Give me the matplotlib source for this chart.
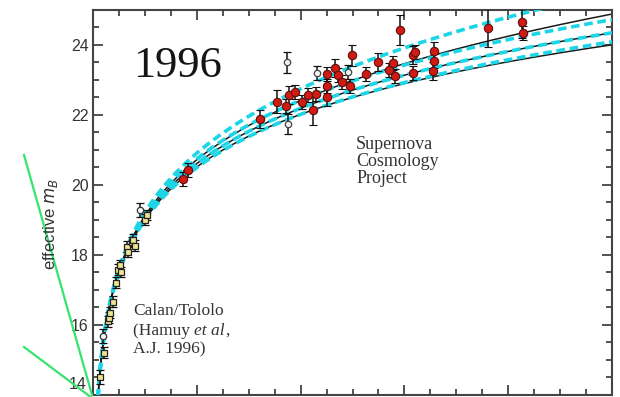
import numpy as np
import matplotlib
matplotlib.use("Agg")
import matplotlib.pyplot as plt
from matplotlib.lines import Line2D
from matplotlib.ticker import MultipleLocator

# ---- Calan/Tololo low-redshift supernovae ----
ct_z = [0.0135, 0.0212, 0.0289, 0.0308, 0.0328, 0.0385, 0.0443, 0.048, 0.052,
        0.054, 0.0655, 0.0674, 0.075, 0.077, 0.081, 0.100, 0.104]
ct_m = [14.49, 15.20, 16.09, 16.20, 16.34, 16.66, 17.20, 17.57, 17.71,
        17.51, 18.23, 18.09, 18.37, 18.43, 18.26, 19.00, 19.14]
ct_err = [0.2, 0.15, 0.15, 0.15, 0.15, 0.15, 0.15, 0.15, 0.15,
          0.15, 0.15, 0.15, 0.15, 0.15, 0.15, 0.15, 0.15]
ct_open_z = [0.0193, 0.0906]
ct_open_m = [15.66, 19.29]
ct_open_err = [0.2, 0.2]

# ---- Supernova Cosmology Project high-redshift supernovae ----
scp_z = [0.173, 0.183, 0.322, 0.355, 0.372, 0.378, 0.389, 0.403, 0.414, 0.424,
         0.430, 0.451, 0.451, 0.451, 0.466, 0.472, 0.480, 0.495, 0.499, 0.526,
         0.549, 0.570, 0.578, 0.582, 0.592, 0.617, 0.620, 0.617, 0.657, 0.657,
         0.655, 0.761, 0.827, 0.829]
scp_m = [20.17, 20.43, 21.89, 22.37, 22.26, 22.57, 22.66, 22.37, 22.57, 22.14,
         22.60, 23.17, 22.83, 22.51, 23.34, 23.14, 22.94, 22.83, 23.71, 23.17,
         23.51, 23.29, 23.49, 23.11, 24.43, 23.71, 23.80, 23.20, 23.83, 23.54,
         23.26, 24.49, 24.66, 24.34]
scp_err = [0.2, 0.2, 0.26, 0.33, 0.2, 0.25, 0.2, 0.2, 0.2, 0.42,
           0.2, 0.2, 0.2, 0.25, 0.25, 0.2, 0.2, 0.2, 0.3, 0.2,
           0.25, 0.2, 0.2, 0.2, 0.42, 0.25, 0.2, 0.2, 0.25, 0.2,
           0.25, 0.55, 0.45, 0.2]
scp_open_z = [0.374, 0.376, 0.432, 0.491]
scp_open_m = [23.51, 21.74, 23.20, 23.23]
scp_open_err = [0.3, 0.28, 0.2, 0.2]

# ---- model cosmologies ----
lambda0_omega_m = [0.0, 1.0, 2.0]            # Omega_Lambda = 0
flat_omega_m = [0.0, 0.5, 1.0, 1.5]          # Omega_M + Omega_Lambda = 1
script_M = -3.38
c_kms = 299792.458

y_ticks = [16, 18, 20, 22, 24]


def lum_distance(z, om, ol):
    """Luminosity distance in units of c/H0."""
    ok = 1.0 - om - ol
    e = np.sqrt(om * (1 + z) ** 3 + ok * (1 + z) ** 2 + ol)
    integrand = 1.0 / e
    chi = np.concatenate([[0.0], np.cumsum(0.5 * (integrand[1:] + integrand[:-1]) * np.diff(z))])
    if ok > 1e-8:
        s = np.sinh(np.sqrt(ok) * chi) / np.sqrt(ok)
    elif ok < -1e-8:
        s = np.sin(np.sqrt(-ok) * chi) / np.sqrt(-ok)
    else:
        s = chi
    return (1 + z) * s


z_grid = np.linspace(0.0, 1.02, 2000)


def model_mag(om, ol):
    dl = lum_distance(z_grid, om, ol)
    with np.errstate(divide="ignore"):
        return script_M + 5 * np.log10(c_kms * dl)


fig = plt.figure(figsize=(6.2, 3.97), dpi=100)
ax = fig.add_axes([93 / 620, 2.5 / 397, 519 / 620, 384.5 / 397])

# Lambda = 0 models: solid black
for om in lambda0_omega_m:
    ax.plot(z_grid[1:], model_mag(om, 0.0)[1:], color="#1a1a1a", lw=1.1, zorder=2)
# flat models: dashed cyan
for om in flat_omega_m:
    ax.plot(z_grid[1:], model_mag(om, 1.0 - om)[1:], color="#1cd6e8", lw=2.6,
            ls=(0, (2.4, 1.3)), zorder=3)

ebar = dict(ecolor="#111111", elinewidth=1.1, capsize=3.0, capthick=1.6, ls="none")

# Calan/Tololo
ax.errorbar(ct_z, ct_m, yerr=ct_err, fmt="s", ms=4.8, mfc="#efe38e", mec="#222222",
            mew=0.9, zorder=5, **ebar)
ax.errorbar(ct_open_z, ct_open_m, yerr=ct_open_err, fmt="o", ms=4.6, mfc="#f4f4f4",
            mec="#333333", mew=0.9, zorder=5, **ebar)

# Supernova Cosmology Project
ax.errorbar(scp_z, scp_m, yerr=scp_err, fmt="o", ms=6.0, mfc="#d01a12", mec="#5a1010",
            mew=0.8, zorder=6, **ebar)
ax.errorbar(scp_open_z, scp_open_m, yerr=scp_open_err, fmt="o", ms=4.6, mfc="#f2f2f2",
            mec="#444444", mew=0.9, zorder=5, **ebar)

ax.set_xlim(0.0, 1.0)
ax.set_ylim(14.0, 25.0)
ax.xaxis.set_major_locator(MultipleLocator(0.2))
ax.xaxis.set_minor_locator(MultipleLocator(0.05))
ax.set_yticks([14] + y_ticks)
ax.set_yticklabels([""] + [str(t) for t in y_ticks])
ax.yaxis.set_minor_locator(MultipleLocator(0.5))
ax.tick_params(which="both", direction="in", top=True, right=True,
               labelbottom=False, colors="#333333", labelcolor="#333333",
               labelsize=11.5, pad=3, width=1.2)
ax.tick_params(which="major", length=7)
ax.tick_params(which="minor", length=4)
for lab in ax.get_yticklabels():
    lab.set_family("Liberation Sans")
for sp in ax.spines.values():
    sp.set_color("#444444")
    sp.set_linewidth(1.5)

# "14" label sits just above the bottom edge
ax.text(-0.012, 14.28, "14", transform=ax.get_yaxis_transform(), ha="right",
        va="center", fontsize=11.5, color="#333333", family="Liberation Sans")

fig.text(51 / 620, 1 - 224 / 397, "effective $m_B$", rotation=90, ha="center",
         va="center", fontsize=12, color="#333333", family="Liberation Sans")

ax.text(0.162, 0.855, "1996", transform=ax.transAxes, fontsize=32,
        family="Liberation Serif", color="#151515", ha="center", va="center")

ax.text(0.507, 0.605, "Supernova\nCosmology\nProject", transform=ax.transAxes,
        fontsize=13, family="Liberation Serif", color="#333333", ha="left",
        va="center", linespacing=1.0)

# Calan/Tololo credit, with "et al" in italics
serif = dict(family="Liberation Serif", color="#333333", fontsize=12.5)
ax.text(0.077, 0.207, "Calan/Tololo", transform=ax.transAxes, ha="left",
        va="baseline", **serif)
t2 = ax.text(0.077, 0.156, "(Hamuy ", transform=ax.transAxes, ha="left",
             va="baseline", **serif)
t3 = ax.annotate("et al", xy=(1, 0), xycoords=t2, ha="left", va="bottom",
                 style="italic", **serif)
ax.annotate(",", xy=(1, 0), xycoords=t3, ha="left", va="bottom", **serif)
ax.text(0.077, 0.107, "A.J. 1996)", transform=ax.transAxes, ha="left",
        va="baseline", **serif)

# green pointer lines on the left margin
for (x0, y0, x1, y1) in [(24, 155, 92, 395), (24, 347, 92, 398)]:
    fig.add_artist(Line2D([x0 / 620, x1 / 620], [1 - y0 / 397, 1 - y1 / 397],
                          transform=fig.transFigure, color="#36e36e", lw=1.6))

fig.savefig("out.png", dpi=100)
